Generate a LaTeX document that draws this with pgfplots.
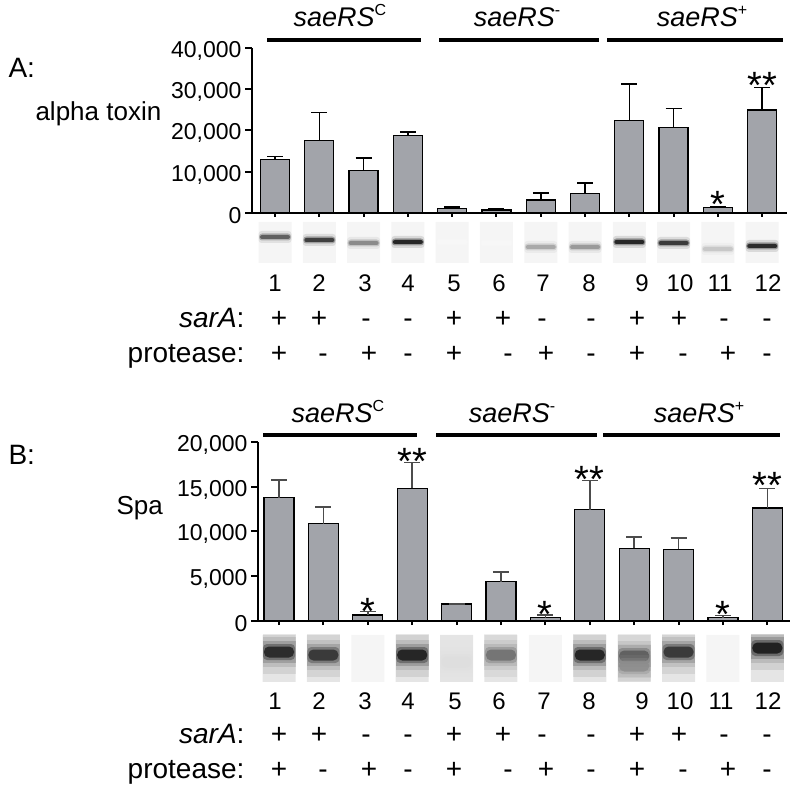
\documentclass[border=0pt]{standalone}
\usepackage{fontspec}
\setmainfont{Liberation Sans}
\usepackage{pgfplots}
\pgfplotsset{compat=1.18}
\definecolor{barfill}{RGB}{162,164,170}
\newcommand\fs[1]{\fontsize{#1}{#1}\selectfont}

\pgfdeclareplotmark{bandA}{%
  \pgfsetfillopacity{0.12}%
  \pgfsetcornersarced{\pgfqpoint{3pt}{3pt}}%
  \pgfpathrectangle{\pgfqpoint{-16.5pt}{-6pt}}{\pgfqpoint{33pt}{12pt}}\pgfusepath{fill}%
  \pgfsetfillopacity{0.35}%
  \pgfpathrectangle{\pgfqpoint{-16pt}{-3.5pt}}{\pgfqpoint{32pt}{7pt}}\pgfusepath{fill}%
  \pgfsetfillopacity{0.85}%
  \pgfsetcornersarced{\pgfqpoint{2pt}{2pt}}%
  \pgfpathrectangle{\pgfqpoint{-15pt}{-2pt}}{\pgfqpoint{30pt}{4pt}}\pgfusepath{fill}%
}
\pgfdeclareplotmark{bandB}{%
  \pgfsetfillopacity{0.09}%
  \pgfpathrectangle{\pgfqpoint{-16.5pt}{-22pt}}{\pgfqpoint{33pt}{44pt}}\pgfusepath{fill}%
  \pgfsetfillopacity{0.11}%
  \pgfpathrectangle{\pgfqpoint{-16.5pt}{-15pt}}{\pgfqpoint{33pt}{30pt}}\pgfusepath{fill}%
  \pgfsetfillopacity{0.18}%
  \pgfpathrectangle{\pgfqpoint{-16.5pt}{-11pt}}{\pgfqpoint{33pt}{22pt}}\pgfusepath{fill}%
  \pgfsetfillopacity{0.35}%
  \pgfsetcornersarced{\pgfqpoint{4pt}{4pt}}%
  \pgfpathrectangle{\pgfqpoint{-16pt}{-8pt}}{\pgfqpoint{32pt}{16pt}}\pgfusepath{fill}%
  \pgfsetfillopacity{0.8}%
  \pgfsetcornersarced{\pgfqpoint{5pt}{5pt}}%
  \pgfpathrectangle{\pgfqpoint{-15pt}{-5.5pt}}{\pgfqpoint{30pt}{11pt}}\pgfusepath{fill}%
}

\pgfplotsset{
  barax/.style={
    anchor=south west, scale only axis, clip=false,
    axis x line*=bottom, axis y line*=left,
    axis line style={line width=2.5pt, black},
    xtick={1,...,12}, xticklabels={},
    tick align=outside, major tick length=7pt,
    tick style={line width=2pt, black},
    xtick style={/pgfplots/major tick length=4pt},
    scaled y ticks=false,
    yticklabel style={font=\fs{23}, yshift=-3pt},
  },
  blotax/.style={
    anchor=south west, scale only axis, axis lines=none, clip=true,
    clip marker paths=true,
    y dir=reverse,
    colormap={blot}{rgb255=(255,255,255) rgb255=(90,90,90) rgb255=(15,15,15)},
    point meta min=0, point meta max=1,
  },
}

\begin{document}
\begin{tikzpicture}[x=1pt,y=1pt]
\useasboundingbox (0,0) rectangle (800,793);

% ---------------- Panel A ----------------
\begin{axis}[barax, at={(252pt,580pt)}, width=535pt, height=165.3pt,
  xmin=0.48, xmax=12.56, ymin=0, ymax=40000,
  ytick={0,10000,20000,30000,40000},
  yticklabels={0,{10,000},{20,000},{30,000},{40,000}}]
\addplot[ybar, bar width=29pt, fill=barfill, draw=black, line width=1.3pt,
  error bars/.cd, y dir=plus, y explicit,
  error bar style={line width=1.6pt, black},
  error mark options={rotate=90, mark size=8pt, line width=1.6pt, black}]
coordinates {
(1,13000) +- (0,700)
(2,17500) +- (0,6800)
(3,10200) +- (0,3100)
(4,18700) +- (0,900)
(5,1050) +- (0,350)
(6,700) +- (0,300)
(7,3150) +- (0,1750)
(8,4700) +- (0,2600)
(9,22400) +- (0,8800)
(10,20700) +- (0,4600)
(11,1400) +- (0,150)
(12,24900) +- (0,5500)
};
\node[anchor=base, inner sep=0, yshift=-22.5pt] at (axis cs:11,4360) {\fs{38}*};
\node[anchor=base, inner sep=0, yshift=-22.5pt] at (axis cs:12,33200) {\fs{38}**};
\end{axis}

\begin{axis}[blotax, at={(252pt,530pt)}, width=535pt, height=41pt,
  xmin=0.48, xmax=12.56, ymin=222, ymax=263]
\addplot[ybar, bar width=33pt, fill=black!4, draw=none]
coordinates {(1,300)(2,300)(3,300)(4,300)(5,300)(6,300)(7,300)(8,300)(9,300)(10,300)(11,300)(12,300)};
\addplot[scatter, only marks, mark=bandA, point meta=explicit,
  scatter/use mapped color={draw=none, fill=mapped color}]
coordinates {
(1,237) [0.55]
(2,240) [0.78]
(3,243) [0.38]
(4,242) [0.97]
(5,242) [0.02]
(6,243) [0.02]
(7,247) [0.28]
(8,247) [0.33]
(9,242) [0.97]
(10,243) [0.82]
(11,249) [0.18]
(12,246) [0.93]
};
\end{axis}

\node[anchor=base west] at (5,715) {\fs{28}A:};
\node[anchor=base west] at (32,672) {\fs{26}alpha toxin};
\node[anchor=base] at (340,766) {\fs{27}\itshape saeRS\raisebox{0.42em}{\upshape\fs{16}C}};
\node[anchor=base] at (517,766) {\fs{27}\itshape saeRS\raisebox{0.42em}{\upshape\fs{16}-}};
\node[anchor=base] at (702,766) {\fs{27}\itshape saeRS\raisebox{0.42em}{\upshape\fs{16}+}};
\draw[line width=3.6pt] (267,753) -- (421,753);
\draw[line width=3.6pt] (439,753) -- (599,753);
\draw[line width=3.6pt] (607,753) -- (783,753);
\foreach \x/\l in {275/1,319/2,365/3,408/4,454/5,499/6,543/7,589/8,642/9,680/10,720/11,768/12}
  \node[anchor=base] at (\x,501) {\fs{24}\l};
\node[anchor=base east] at (248,465) {\fs{28}\textit{sarA}:};
\node[anchor=base east] at (248,430) {\fs{28}protease:};
\foreach \x/\s in {279/+,319/+,366/-,408/-,454/+,503/+,542/-,591/-,637/+,679/+,724/-,767/-}
  \node[anchor=base] at (\x,465) {\fs{28}\s};
\foreach \x/\s in {279/+,323/-,369/+,408/-,454/+,508/-,546/+,591/-,637/+,683/-,728/+,767/-}
  \node[anchor=base] at (\x,430) {\fs{28}\s};

% ---------------- Panel B ----------------
\begin{axis}[barax, at={(258pt,172pt)}, width=532pt, height=179.3pt,
  xmin=0.527, xmax=12.51, ymin=0, ymax=20000,
  ytick={0,5000,10000,15000,20000},
  yticklabels={0,{5,000},{10,000},{15,000},{20,000}}]
\addplot[ybar, bar width=30pt, fill=barfill, draw=black, line width=1.3pt,
  error bars/.cd, y dir=plus, y explicit,
  error bar style={line width=1.6pt, black!70},
  error mark options={rotate=90, mark size=8pt, line width=1.6pt, black!70}]
coordinates {
(1,13760) +- (0,1940)
(2,10860) +- (0,1840)
(3,670) +- (0,370)
(4,14800) +- (0,2900)
(5,1900) +- (0,0)
(6,4400) +- (0,1070)
(7,370) +- (0,300)
(8,12400) +- (0,3260)
(9,8100) +- (0,1240)
(10,8000) +- (0,1230)
(11,370) +- (0,260)
(12,12600) +- (0,2200)
};
\node[anchor=base, inner sep=0, yshift=-22.5pt] at (axis cs:3,2100) {\fs{38}*};
\node[anchor=base, inner sep=0, yshift=-22.5pt] at (axis cs:4,18900) {\fs{38}**};
\node[anchor=base, inner sep=0, yshift=-22.5pt] at (axis cs:7,1800) {\fs{38}*};
\node[anchor=base, inner sep=0, yshift=-22.5pt] at (axis cs:8,16850) {\fs{38}**};
\node[anchor=base, inner sep=0, yshift=-22.5pt] at (axis cs:11,1800) {\fs{38}*};
\node[anchor=base, inner sep=0, yshift=-22.5pt] at (axis cs:12,16200) {\fs{38}**};
\end{axis}

\begin{axis}[blotax, at={(258pt,112pt)}, width=532pt, height=46pt,
  xmin=0.527, xmax=12.51, ymin=635, ymax=681]
\addplot[ybar, bar width=33pt, fill=black!10, draw=none]
coordinates {(1,700)(2,700)(4,700)(5,700)(6,700)(8,700)(9,700)(10,700)(12,700)};
\addplot[ybar, bar width=33pt, fill=black!4, draw=none]
coordinates {(3,700)(7,700)(11,700)};
\addplot[scatter, only marks, mark=bandB, point meta=explicit,
  scatter/use mapped color={draw=none, fill=mapped color}]
coordinates {
(1,652) [0.92]
(2,655) [0.82]
(4,655) [0.96]
(5,662) [0.1]
(6,655) [0.45]
(8,655) [0.96]
(9,656) [0.6]
(9,666) [0.35]
(10,652) [0.82]
(12,648) [1.0]
};
\end{axis}

\node[anchor=base west] at (5,328) {\fs{28}B:};
\node[anchor=base west] at (113,278) {\fs{26}Spa};
\node[anchor=base] at (338,370) {\fs{27}\itshape saeRS\raisebox{0.42em}{\upshape\fs{16}C}};
\node[anchor=base] at (512,370) {\fs{27}\itshape saeRS\raisebox{0.42em}{\upshape\fs{16}-}};
\node[anchor=base] at (699,370) {\fs{27}\itshape saeRS\raisebox{0.42em}{\upshape\fs{16}+}};
\draw[line width=3.6pt] (263,358) -- (417,358);
\draw[line width=3.6pt] (436,358) -- (597,358);
\draw[line width=3.6pt] (603,358) -- (780,358);
\foreach \x/\l in {275/1,319/2,365/3,408/4,455/5,499/6,544/7,589/8,642/9,680/10,721/11,768/12}
  \node[anchor=base] at (\x,84) {\fs{24}\l};
\node[anchor=base east] at (248,50) {\fs{28}\textit{sarA}:};
\node[anchor=base east] at (248,15) {\fs{28}protease:};
\foreach \x/\s in {279/+,319/+,366/-,408/-,454/+,503/+,542/-,591/-,637/+,679/+,724/-,767/-}
  \node[anchor=base] at (\x,50) {\fs{28}\s};
\foreach \x/\s in {279/+,323/-,369/+,408/-,454/+,508/-,546/+,591/-,637/+,683/-,728/+,767/-}
  \node[anchor=base] at (\x,15) {\fs{28}\s};
\end{tikzpicture}
\end{document}
